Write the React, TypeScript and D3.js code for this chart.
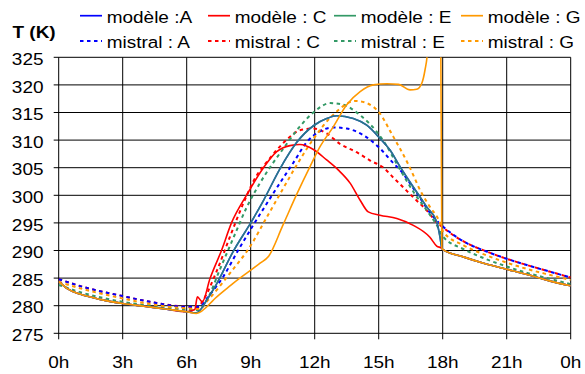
import React from "react";
import * as d3 from "d3";

// ---------- data ----------
const hourTicks = [0, 3, 6, 9, 12, 15, 18, 21, 24];
const hourLabels = ["0h", "3h", "6h", "9h", "12h", "15h", "18h", "21h", "0h"];
const tempTicks = [275, 280, 285, 290, 295, 300, 305, 310, 315, 320, 325];

// shared night / evening portions of the model curves
const nightHours = [0, 0.4, 1, 2, 3, 4, 5, 6];
const modelNight = [284.4, 283.1, 282.1, 281.1, 280.4, 279.9, 279.4, 278.9];
const eveningHours = [18, 19, 20, 21, 22, 23, 24];
const modelEvening = [290.2, 288.8, 287.6, 286.6, 285.6, 284.5, 283.6];

// modèle A and E (nearly identical)
const modelAEHours = [6.45, 7.0, 7.41, 8.19, 9.0, 9.59, 10.37, 11.16, 11.94, 12.56, 13.03, 13.81, 14.44, 15.06, 15.53, 16.0, 16.78, 17.25, 17.72, 17.87, 17.96];
const modelAEDay = [278.7, 281.4, 284.0, 289.9, 295.0, 299.0, 304.8, 309.6, 312.6, 313.9, 314.4, 313.9, 312.7, 310.3, 308.2, 305.2, 300.6, 297.9, 295.2, 292.5, 290.4];

// modèle C
const modelCHours = [6.38, 6.5, 6.73, 7.1, 7.64, 8.1, 8.8, 9.6, 10.22, 10.84, 11.31, 11.94, 12.56, 13.1, 13.66, 14.13, 14.51, 15.06, 15.85, 16.6, 17.4, 17.72, 17.96];
const modelCDay = [279.3, 281.6, 280.7, 285.0, 290.1, 295.0, 300.0, 305.0, 307.9, 309.0, 309.2, 308.3, 306.4, 304.6, 302.2, 299.1, 297.0, 296.4, 295.8, 294.6, 292.4, 290.8, 290.4];

// modèle G
const modelGHours = [6.45, 7.41, 8.19, 9.44, 9.83, 10.5, 11.16, 11.78, 12.25, 12.87, 13.5, 14.13, 14.75, 15.38, 15.93, 16.47, 16.78, 17.02, 17.17, 17.28, 17.4, 17.9, 17.96];
const modelGDay = [278.6, 281.6, 284.1, 287.7, 288.9, 294.5, 300.2, 305.2, 308.8, 312.4, 316.4, 318.8, 320.0, 320.2, 320.1, 319.1, 319.2, 320.3, 322.7, 325.7, 335, 335, 290.4];

// mistral runs
const mistralAHours = [0, 1.15, 3, 4.28, 6, 6.6, 7.0, 7.72, 8.42, 9.12, 9.9, 10.5, 11.0, 11.62, 12.25, 12.87, 13.5, 14.28, 15.06, 15.69, 16.0, 16.78, 17.56, 18, 19, 20, 21, 22, 23, 24];
const mistralA = [284.8, 283.4, 281.75, 280.7, 279.8, 279.8, 281.6, 285.3, 290.1, 294.6, 299.4, 303.0, 305.9, 309.6, 311.6, 312.3, 312.1, 310.9, 308.5, 305.8, 304.6, 300.4, 296.1, 294.4, 291.6, 289.9, 288.5, 287.3, 286.2, 285.1];

const mistralCHours = [0, 1.15, 3, 4.28, 6, 6.5, 6.8, 7.41, 8.03, 8.66, 9.28, 9.75, 10.22, 10.84, 11.31, 11.94, 12.56, 13.19, 13.97, 14.6, 15.22, 15.69, 16.16, 16.63, 17.09, 17.4, 17.64, 18, 19, 20, 21, 22, 23, 24];
const mistralC = [284.8, 283.4, 281.75, 280.7, 279.8, 279.7, 281.2, 286.3, 292.5, 298.6, 303.6, 306.0, 308.2, 310.6, 311.8, 312.1, 311.2, 309.3, 307.8, 306.3, 305.0, 303.2, 301.4, 299.6, 297.9, 296.6, 295.4, 294.2, 291.6, 289.9, 288.5, 287.3, 286.2, 285.1];

const mistralEHours = [0, 1.15, 3, 4.28, 6, 6.5, 6.94, 7.56, 8.19, 8.81, 9.4, 10.0, 10.5, 11.27, 11.94, 12.72, 13.34, 14.13, 14.91, 15.2, 15.95, 16.7, 17.25, 17.72, 18, 19, 20, 21, 22, 23, 24];
const mistralE = [283.75, 282.3, 280.7, 280.0, 279.3, 279.2, 281.0, 286.6, 292.3, 297.8, 302.0, 305.6, 308.3, 312.3, 315.0, 316.7, 316.4, 314.5, 311.5, 310.0, 305.0, 300.2, 297.3, 294.6, 292.6, 290.2, 288.5, 287.1, 285.9, 284.9, 283.9];

const mistralGHours = [0, 1.15, 3, 4.28, 6, 6.6, 7.0, 8.03, 9.0, 9.75, 10.53, 11.16, 11.9, 12.9, 13.9, 14.44, 15.06, 15.6, 16.4, 17.0, 17.4, 17.87, 18, 19, 20, 21, 22, 23, 24];
const mistralG = [284.3, 283.0, 281.3, 280.3, 279.5, 279.4, 281.0, 285.9, 290.9, 296.0, 301.3, 305.5, 310.0, 314.7, 317.1, 316.7, 314.8, 311.2, 305.5, 300.5, 297.9, 295.0, 293.5, 290.9, 289.2, 287.8, 286.6, 285.6, 284.65];

const legendNames = ["modèle :A", "modèle : C", "modèle : E", "modèle : G"];
const legendMistral = ["mistral : A", "mistral : C", "mistral : E", "mistral : G"];
const colors = ["#0000FF", "#FF0000", "#339966", "#FF9900"];

// ---------- layout ----------
const W = 585;
const H = 374;
const X0 = 58.7;
const X1 = 570.7;
const YTOP = 57.3;
const YBOT = 333.3;
const FONT = "'Liberation Sans', Arial, sans-serif";
const FS = 16.5;
const SX = 1.15;

type Pt = [number, number];
const zip = (h: number[], v: number[]): Pt[] => h.map((x, i) => [x, v[i]]);

const STxt = ({ x, y, anchor = "start", bold = false, children }: any) => (
  <g transform={`translate(${x},${y}) scale(${SX},1)`}>
    <text x={0} y={0} textAnchor={anchor} fontFamily={FONT} fontSize={FS} fontWeight={bold ? "bold" : "normal"} fill="#000">
      {children}
    </text>
  </g>
);

export default function App() {
  const x = d3.scaleLinear().domain([0, 24]).range([X0, X1]);
  const y = d3.scaleLinear().domain([275, 325]).range([YBOT, YTOP]);
  const line = d3
    .line<Pt>()
    .x((d) => x(d[0]))
    .y((d) => y(d[1]))
    .curve(d3.curveMonotoneX);

  const modelA = [...zip(nightHours, modelNight), ...zip(modelAEHours, modelAEDay), ...zip(eveningHours, modelEvening)];
  const modelC = [...zip(nightHours, modelNight), ...zip(modelCHours, modelCDay), ...zip(eveningHours, modelEvening)];
  const modelE = modelA;
  const modelG = [...zip(nightHours, modelNight), ...zip(modelGHours, modelGDay), ...zip(eveningHours, modelEvening)];

  const solid = [
    { d: modelC, c: colors[1], o: 1 },
    { d: modelA, c: colors[0], o: 1 },
    { d: modelE, c: colors[2], o: 0.8 },
    { d: modelG, c: colors[3], o: 1 },
  ];
  const dotted = [
    { d: zip(mistralCHours, mistralC), c: colors[1] },
    { d: zip(mistralAHours, mistralA), c: colors[0] },
    { d: zip(mistralEHours, mistralE), c: colors[2] },
    { d: zip(mistralGHours, mistralG), c: colors[3] },
  ];

  const legendX = [80, 208, 334, 461];

  return (
    <svg width={W} height={H} style={{ position: "absolute", left: 0, top: 0, background: "#fff" }}>
      <defs>
        <clipPath id="plot">
          <rect x={X0} y={YTOP} width={X1 - X0} height={YBOT - YTOP} />
        </clipPath>
      </defs>
      <rect x={0} y={0} width={W} height={H} fill="#fff" />
      {/* grid */}
      {tempTicks.map((t) => (
        <line key={"h" + t} x1={X0 - 5} x2={X1} y1={y(t)} y2={y(t)} stroke="#000" strokeWidth={1} />
      ))}
      {hourTicks.map((h) => (
        <line key={"v" + h} x1={x(h)} x2={x(h)} y1={YTOP} y2={YBOT + 6} stroke="#000" strokeWidth={1} />
      ))}
      {/* series */}
      <g clipPath="url(#plot)" fill="none">
        {dotted.map((s, i) => (
          <path key={"d" + i} d={line(s.d) || ""} stroke={s.c} strokeWidth={2} strokeDasharray="3.5,3.5" />
        ))}
        {solid.map((s, i) => (
          <path key={"s" + i} d={line(s.d) || ""} stroke={s.c} strokeWidth={1.6} strokeOpacity={s.o} />
        ))}
      </g>
      {/* y labels */}
      {tempTicks.map((t) => (
        <STxt key={"yl" + t} x={43.5} y={y(t) + 7.7} anchor="end">
          {t}
        </STxt>
      ))}
      {hourTicks.map((h, i) => (
        <STxt key={"xl" + i} x={x(h)} y={368} anchor="middle">
          {hourLabels[i]}
        </STxt>
      ))}
      <STxt x={12.5} y={37.5} bold>
        T (K)
      </STxt>
      {/* legend */}
      {legendNames.map((n, i) => (
        <g key={"lg" + i}>
          <line x1={legendX[i]} x2={legendX[i] + 22} y1={15.7} y2={15.7} stroke={colors[i]} strokeWidth={1.7} />
          <STxt x={legendX[i] + 26.7} y={22.7}>{n}</STxt>
          <line x1={legendX[i]} x2={legendX[i] + 22} y1={41} y2={41} stroke={colors[i]} strokeWidth={2} strokeDasharray="3.5,3.5" />
          <STxt x={legendX[i] + 26.7} y={47.7}>{legendMistral[i]}</STxt>
        </g>
      ))}
    </svg>
  );
}
